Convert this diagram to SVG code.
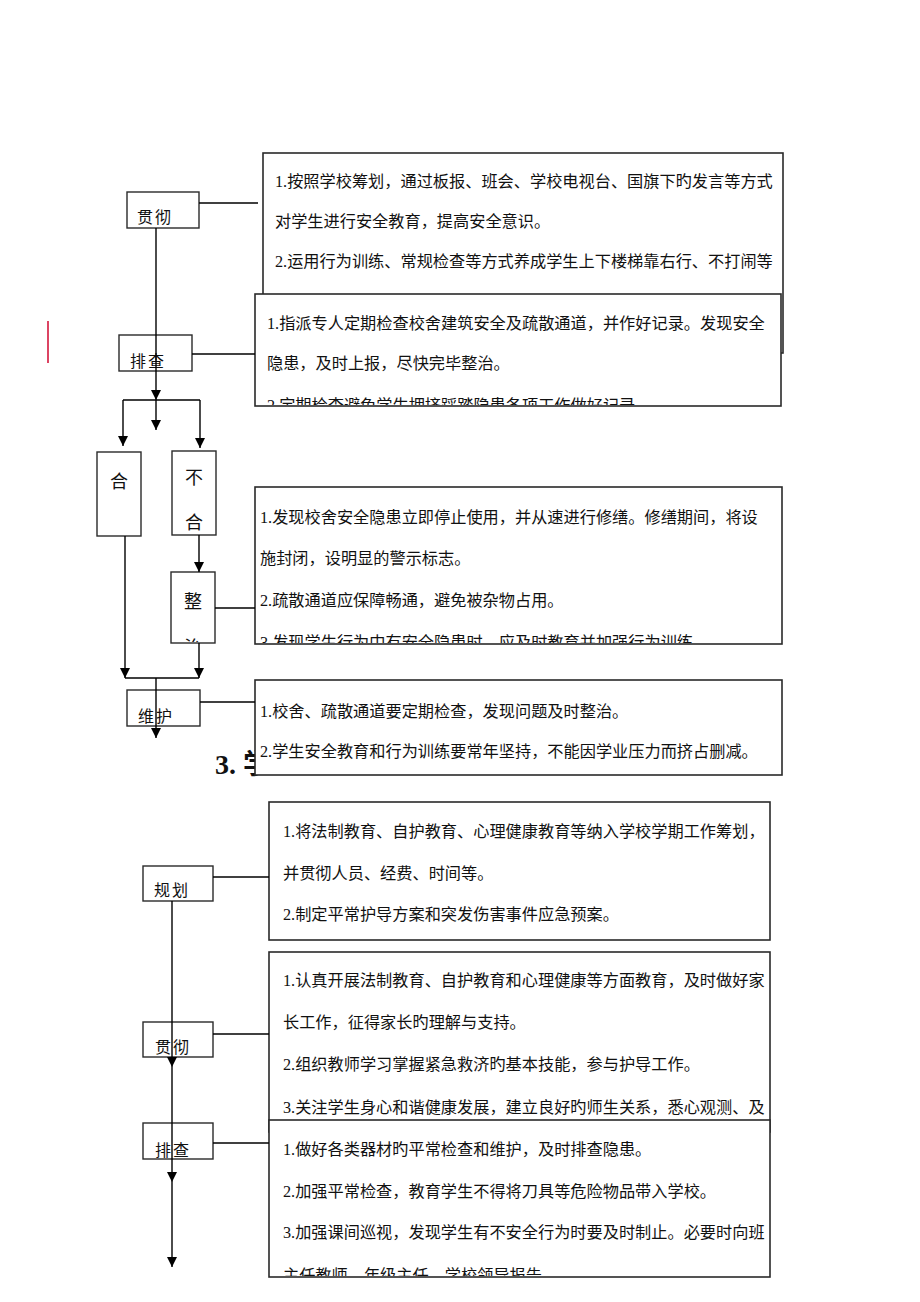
<svg xmlns="http://www.w3.org/2000/svg" width="920" height="1302" viewBox="0 0 920 1302">
<style>
.box{fill:#fff;stroke:#2a2a2a;stroke-width:1.6}
.lbl{fill:#fff;stroke:#2a2a2a;stroke-width:1.4}
.t{font-family:"Liberation Serif","Noto Sans CJK SC",serif;font-size:16.2px;fill:#111}
.l{font-family:"Liberation Serif","Noto Sans CJK SC",serif;font-size:16px;fill:#111;letter-spacing:2px}
.v{font-family:"Liberation Serif","Noto Sans CJK SC",serif;font-size:18px;fill:#111}
.c{fill:none;stroke:#000;stroke-width:1.4}
</style>
<defs>
<marker id="ah" markerUnits="userSpaceOnUse" markerWidth="10" markerHeight="11" refX="5" refY="10" orient="auto" viewBox="0 0 10 11">
<path d="M0,0 L10,0 L5,10 Z" fill="#000" transform="rotate(-90 5 5.5) translate(0.5 0)"/>
</marker>
<marker id="a" markerUnits="userSpaceOnUse" markerWidth="10" markerHeight="10" refX="10" refY="5" orient="auto" viewBox="0 0 10 10">
<path d="M0,0 L10,5 L0,10 Z" fill="#000"/>
</marker>
<clipPath id="cb"><rect x="255" y="294" width="526" height="111"/></clipPath>
<clipPath id="cc"><rect x="255" y="487" width="527" height="156"/></clipPath>
<clipPath id="cg"><rect x="269" y="1120" width="501" height="156"/></clipPath>
<clipPath id="cz"><rect x="171" y="572" width="44" height="70"/></clipPath>
</defs>
<rect width="920" height="1302" fill="#fff"/>
<line x1="48" y1="321" x2="48" y2="363" stroke="#d4163c" stroke-width="1.6"/>
<text x="215" y="774" font-family="Liberation Serif,'Noto Sans CJK SC',serif" font-size="28" font-weight="bold" fill="#111">3. 学</text>

<g id="boxA">
<rect class="box" x="263" y="153" width="520" height="200"/>
<text class="t" x="275" y="187">1.按照学校筹划，通过板报、班会、学校电视台、国旗下旳发言等方式</text>
<text class="t" x="275" y="227">对学生进行安全教育，提高安全意识。</text>
<text class="t" x="275" y="267">2.运用行为训练、常规检查等方式养成学生上下楼梯靠右行、不打闹等</text>
</g>
<g id="boxB">
<rect class="box" x="255" y="294" width="526" height="112"/>
<g clip-path="url(#cb)">
<text class="t" x="267" y="329">1.指派专人定期检查校舍建筑安全及疏散通道，并作好记录。发现安全</text>
<text class="t" x="267" y="369">隐患，及时上报，尽快完毕整治。</text>
<text class="t" x="267" y="411">2.定期检查避免学生拥挤踩踏隐患各项工作做好记录</text>
</g>
</g>
<g id="boxC">
<rect class="box" x="255" y="487" width="527" height="157"/>
<g clip-path="url(#cc)">
<text class="t" x="260" y="523">1.发现校舍安全隐患立即停止使用，并从速进行修缮。修缮期间，将设</text>
<text class="t" x="260" y="564">施封闭，设明显的警示标志。</text>
<text class="t" x="260" y="606">2.疏散通道应保障畅通，避免被杂物占用。</text>
<text class="t" x="260" y="648">3.发现学生行为中有安全隐患时，应及时教育并加强行为训练。</text>
</g>
</g>
<g id="boxD">
<rect class="box" x="255" y="680" width="527" height="95"/>
<text class="t" x="260" y="717">1.校舍、疏散通道要定期检查，发现问题及时整治。</text>
<text class="t" x="260" y="757">2.学生安全教育和行为训练要常年坚持，不能因学业压力而挤占删减。</text>
</g>
<g id="boxE">
<rect class="box" x="269" y="802" width="501" height="138"/>
<text class="t" x="283" y="837">1.将法制教育、自护教育、心理健康教育等纳入学校学期工作筹划，</text>
<text class="t" x="283" y="879">并贯彻人员、经费、时间等。</text>
<text class="t" x="283" y="920">2.制定平常护导方案和突发伤害事件应急预案。</text>
</g>
<g id="boxF">
<rect class="box" x="269" y="952" width="501" height="180"/>
<text class="t" x="283" y="986">1.认真开展法制教育、自护教育和心理健康等方面教育，及时做好家</text>
<text class="t" x="283" y="1028">长工作，征得家长旳理解与支持。</text>
<text class="t" x="283" y="1070">2.组织教师学习掌握紧急救济旳基本技能，参与护导工作。</text>
<text class="t" x="283" y="1113">3.关注学生身心和谐健康发展，建立良好旳师生关系，悉心观测、及</text>
</g>
<g id="boxG">
<rect class="box" x="269" y="1120" width="501" height="157"/>
<g clip-path="url(#cg)">
<text class="t" x="283" y="1155">1.做好各类器材旳平常检查和维护，及时排查隐患。</text>
<text class="t" x="283" y="1197">2.加强平常检查，教育学生不得将刀具等危险物品带入学校。</text>
<text class="t" x="283" y="1238">3.加强课间巡视，发现学生有不安全行为时要及时制止。必要时向班</text>
<text class="t" x="283" y="1281">主任教师、年级主任、学校领导报告。</text>
</g>
</g>

<g id="n-guanche1"><rect class="lbl" x="127" y="192" width="72" height="36"/><text class="l" x="137" y="223">贯彻</text></g>
<g id="n-paicha1"><rect class="lbl" x="119" y="335" width="73" height="36"/><text class="l" x="130" y="367">排查</text></g>
<g id="n-he"><rect class="lbl" x="97" y="452" width="44" height="84"/><text class="v" x="119" y="488" text-anchor="middle">合</text></g>
<g id="n-buhe"><rect class="lbl" x="172" y="451" width="44" height="84"/><text class="v" x="194" y="484" text-anchor="middle">不</text><text class="v" x="194" y="529" text-anchor="middle">合</text></g>
<g id="n-zhengzhi"><rect class="lbl" x="171" y="572" width="44" height="71"/><g clip-path="url(#cz)"><text class="v" x="193" y="608" text-anchor="middle">整</text><text class="v" x="193" y="654" text-anchor="middle">治</text></g></g>
<g id="n-weihu"><rect class="lbl" x="127" y="690" width="73" height="36"/><text class="l" x="138" y="722">维护</text></g>
<g id="n-guihua"><rect class="lbl" x="143" y="866" width="70" height="35"/><text class="l" x="154" y="896">规划</text></g>
<g id="n-guanche2"><rect class="lbl" x="143" y="1022" width="70" height="35"/><text class="l" x="155" y="1053">贯彻</text></g>
<g id="n-paicha2"><rect class="lbl" x="143" y="1123" width="70" height="36"/><text class="l" x="155" y="1156">排查</text></g>

<g id="connectors">
<line class="c" x1="199" y1="203" x2="258" y2="203"/>
<line class="c" x1="156" y1="228" x2="156" y2="400" marker-end="url(#a)"/>
<line class="c" x1="192" y1="354" x2="255" y2="354"/>
<line class="c" x1="123" y1="400" x2="200" y2="400"/>
<line class="c" x1="123" y1="400" x2="123" y2="446" marker-end="url(#a)"/>
<line class="c" x1="156" y1="400" x2="156" y2="430" marker-end="url(#a)"/>
<line class="c" x1="200" y1="400" x2="200" y2="448" marker-end="url(#a)"/>
<line class="c" x1="199" y1="535" x2="199" y2="572" marker-end="url(#a)"/>
<line class="c" x1="215" y1="608" x2="255" y2="608"/>
<line class="c" x1="125" y1="536" x2="125" y2="678" marker-end="url(#a)"/>
<line class="c" x1="199" y1="643" x2="199" y2="678" marker-end="url(#a)"/>
<line class="c" x1="125" y1="678" x2="199" y2="678"/>
<line class="c" x1="156" y1="678" x2="156" y2="738" marker-end="url(#a)"/>
<line class="c" x1="200" y1="702" x2="255" y2="702"/>
<line class="c" x1="213" y1="877" x2="269" y2="877"/>
<line class="c" x1="172" y1="901" x2="172" y2="1067" marker-end="url(#a)"/>
<line class="c" x1="172" y1="1067" x2="172" y2="1182" marker-end="url(#a)"/>
<line class="c" x1="172" y1="1182" x2="172" y2="1267" marker-end="url(#a)"/>
<line class="c" x1="213" y1="1034" x2="269" y2="1034"/>
<line class="c" x1="213" y1="1143" x2="269" y2="1143"/>
</g>
</svg>
